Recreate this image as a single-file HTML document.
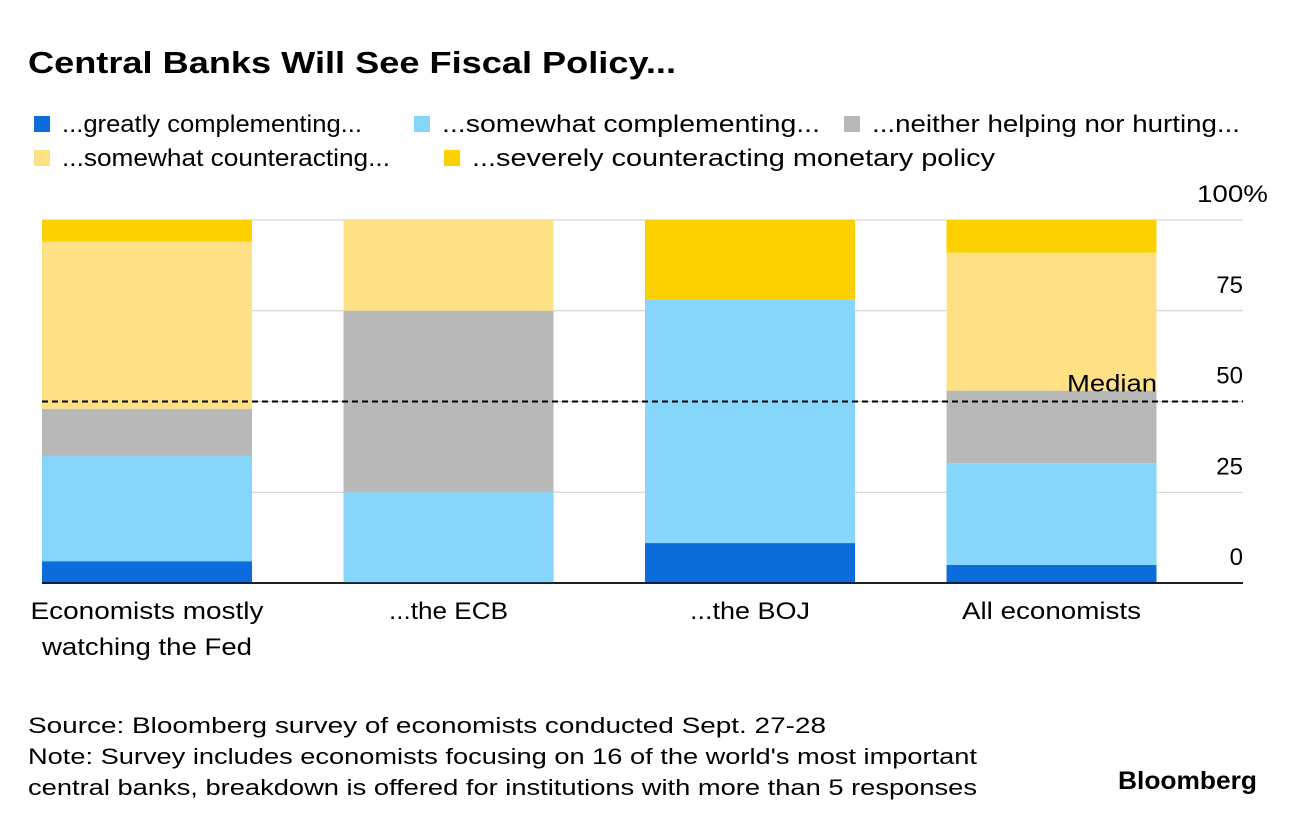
<!DOCTYPE html>
<html><head><meta charset="utf-8">
<style>
body{margin:0;background:#fff;font-family:"Liberation Sans",Arial,sans-serif;color:#000;}
#wrap{position:relative;width:1296px;height:826px;overflow:hidden;}
</style></head>
<body>
<div id="wrap">
<svg id="chart" width="1296" height="826" style="position:absolute;left:0;top:0" font-family="Liberation Sans, Arial, sans-serif">
<text x="28" y="73" font-size="31" font-weight="bold" textLength="648" lengthAdjust="spacingAndGlyphs">Central Banks Will See Fiscal Policy...</text>
<text x="28" y="733" font-size="22.5" textLength="798" lengthAdjust="spacingAndGlyphs">Source: Bloomberg survey of economists conducted Sept. 27-28</text>
<text x="28" y="764" font-size="22.5" textLength="949" lengthAdjust="spacingAndGlyphs">Note: Survey includes economists focusing on 16 of the world's most important</text>
<text x="28" y="795" font-size="22.5" textLength="949" lengthAdjust="spacingAndGlyphs">central banks, breakdown is offered for institutions with more than 5 responses</text>
<text x="1118" y="789" font-size="25" font-weight="bold" textLength="139" lengthAdjust="spacingAndGlyphs">Bloomberg</text>
</svg>
</div>
<script>
const categories=[["Economists mostly","watching the Fed"],["...the ECB"],["...the BOJ"],["All economists"]];
const seriesNames=["...greatly complementing...","...somewhat complementing...","...neither helping nor hurting...","...somewhat counteracting...","...severely counteracting monetary policy"];
const greatly=[6,0,11,5];
const somewhat=[29,25,67,28];
const neither=[13,50,0,20];
const counter=[46,25,0,38];
const severe=[6,0,22,9];
const ticks=[0,25,50,75,100];
const tickLabels=["0","25","50","75","100%"];
const medianValue=50;

const series=[greatly,somewhat,neither,counter,severe];
const colors=["#0b6ddc","#86d6fb","#b8b8b8","#fee185","#fdd100"];
const NS="http://www.w3.org/2000/svg";
const svg=document.getElementById('chart');
const y0=583,y100=220,xL=42,xR=1243;
const y=v=>y0-(y0-y100)*v/100;
const bw=210,step=301.5;
const bx=i=>42+i*step;
function mk(tag,attrs,parent){const e=document.createElementNS(NS,tag);for(const k in attrs)e.setAttribute(k,attrs[k]);(parent||svg).appendChild(e);return e;}

// legend
const legPos=[[34,124,362],[414,124,820],[844,124,1240],[34,158,390],[444,158,995]];
seriesNames.forEach((n,i)=>{
  const r=mk('rect',{x:legPos[i][0],y:legPos[i][1]-8,width:16,height:16,fill:colors[i]});
  
  
  const tx=legPos[i][0]+28;
  const t=mk('text',{x:tx,y:legPos[i][1]+8,'font-size':24,textLength:legPos[i][2]-tx,lengthAdjust:'spacingAndGlyphs'});
  t.textContent=n;
  
  
});

// gridlines and ticks
ticks.forEach((v,i)=>{
  const l=mk('line',{x1:xL,x2:xR,y1:y(v),y2:y(v),stroke:i===0?'#000':'#ccc','stroke-width':i===0?1.5:1});
  
  
  const t=mk('text',{x:1243,y:y(v)-18,'text-anchor':'end','font-size':24});
  if(v===100){t.setAttribute('x',1268);t.setAttribute('textLength',71);t.setAttribute('lengthAdjust','spacingAndGlyphs');}
  t.textContent=tickLabels[i];
  
  
});

const catWidths=[[233,210],[119],[120],[179]];
// bars
categories.forEach((c,i)=>{
  let cum=0;
  series.forEach((s,j)=>{
    const v=s[i];
    if(v>0){
      const r=mk('rect',{x:bx(i),y:y(cum+v),width:bw,height:y(cum)-y(cum+v),fill:colors[j]});
      
      
    }
    cum+=v;
  });
  c.forEach((line,k)=>{
    const t=mk('text',{x:bx(i)+bw/2,y:619+k*36,'text-anchor':'middle','font-size':24,textLength:catWidths[i][k],lengthAdjust:'spacingAndGlyphs'});
    t.textContent=line;
    
    
  });
});
const bl=mk('line',{x1:xL,x2:xR,y1:y0,y2:y0,stroke:'#000','stroke-width':1.5});



// median
const ml=mk('line',{x1:xL,x2:xR,y1:y(medianValue),y2:y(medianValue),stroke:'#000','stroke-width':2,'stroke-dasharray':'6,4'});


const mt=mk('text',{x:1157,y:y(medianValue)-10,'text-anchor':'end','font-size':24,textLength:90,lengthAdjust:'spacingAndGlyphs'});
mt.textContent="Median";


</script>
</body></html>
